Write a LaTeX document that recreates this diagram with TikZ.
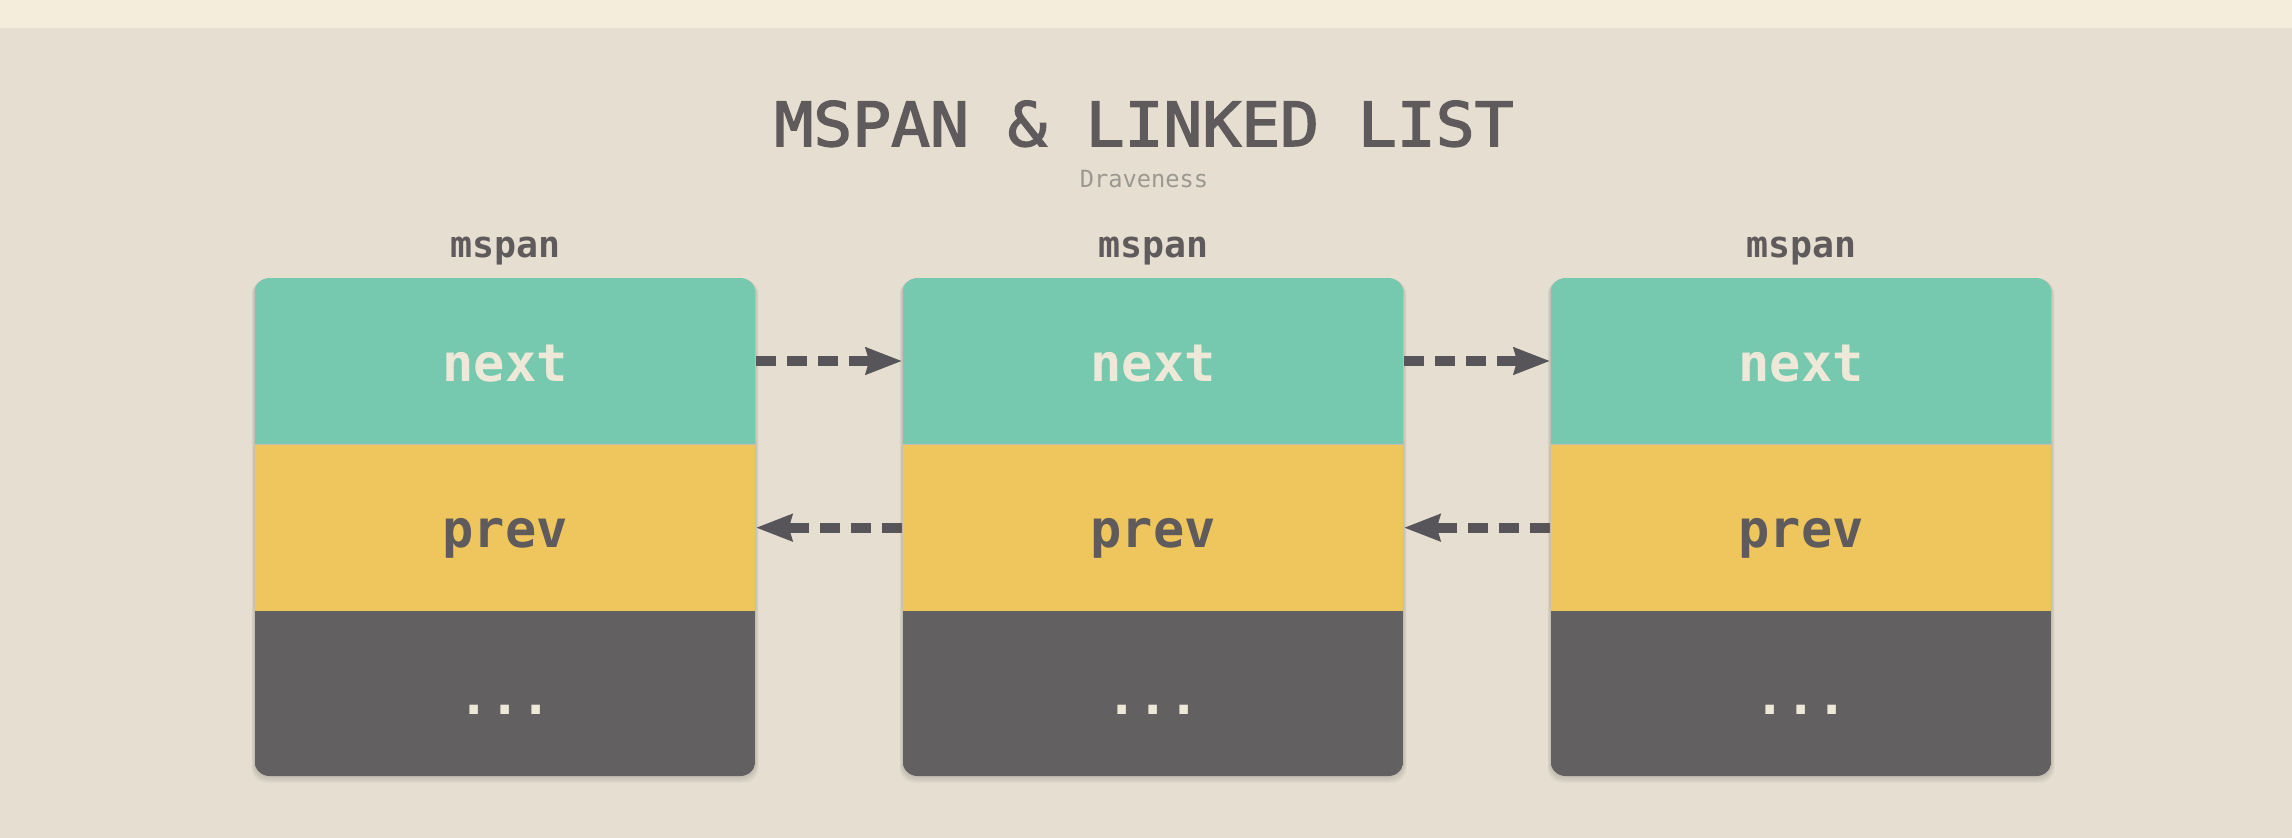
\documentclass[tikz,border=0pt]{standalone}
\usepackage{fontspec}
\setmonofont{DejaVu Sans Mono}
\newfontfamily\titlefont[FakeBold=2.5,FakeStretch=1.06]{DejaVu Sans Mono}
\usepackage{xcolor}
\usepackage{tikz}
\usetikzlibrary{arrows.meta,positioning}

\definecolor{bgcream}{HTML}{E6DFD1}
\definecolor{topcream}{HTML}{F5EDDB}
\definecolor{nextgreen}{HTML}{76C9AF}
\definecolor{prevyellow}{HTML}{EFC65D}
\definecolor{restgray}{HTML}{636062}
\definecolor{inkgray}{HTML}{5F5B5C}
\definecolor{paleink}{HTML}{EEE8D8}
\definecolor{subgray}{HTML}{9B9890}
\definecolor{linkgray}{HTML}{58555A}

\begin{document}
\begin{tikzpicture}[x=0.02cm,y=-0.02cm,
  field/.style={minimum width=10.02cm,minimum height=3.32cm,inner sep=0pt,
    font=\ttfamily\bfseries\fontsize{29.6}{30}\selectfont,text height=23pt,text depth=0pt},
  head/.style={font=\ttfamily\bfseries\fontsize{20.8}{22}\selectfont,text=inkgray,
    text height=12.5pt,text depth=0pt},
  link/.style={draw=linkgray,line width=0.2cm,dash pattern=on 0.4cm off 0.22cm,
    -{Stealth[length=0.72cm,width=0.52cm,inset=0.06cm]}}]
  \fill[bgcream] (0,0) rectangle (2292,838);
  \fill[topcream] (0,0) rectangle (2292,28);

  \node[font=\titlefont\fontsize{34.7}{36}\selectfont,text=inkgray,anchor=base] (title) at (1144,146) {MSPAN \& LINKED LIST};
  \node[font=\ttfamily\fontsize{13.5}{14}\selectfont,text=subgray,anchor=base] (author) at (1144,187) {Draveness};

  % 三个 mspan，每个分 next / prev / ... 三格
  \foreach \i/\cx in {1/505,2/1153,3/1801} {
    \foreach \s in {1,...,6}
      \fill[black,opacity=0.025,rounded corners=0.3cm] (\cx-250.5-0.5*\s,278+0.3*\s) rectangle (\cx+250.5+0.5*\s,776+1.2*\s);
    \begin{scope}
      \clip[rounded corners=0.3cm] (\cx-250.5,278) rectangle (\cx+250.5,776);
      \node[field,fill=nextgreen,text=paleink] (next\i) at (\cx,361) {next};
      \node[field,fill=prevyellow,text=inkgray,below=0pt of next\i] (prev\i) {prev};
      \node[field,fill=restgray,text=paleink,below=0pt of prev\i] (rest\i) {...};
    \end{scope}
    \node[head] (span\i) at (\cx,247) {mspan};
  }

  \draw[link] (next1.east) -- (next2.west);
  \draw[link] (next2.east) -- (next3.west);
  \draw[link] (prev2.west) -- (prev1.east);
  \draw[link] (prev3.west) -- (prev2.east);
\end{tikzpicture}
\end{document}
